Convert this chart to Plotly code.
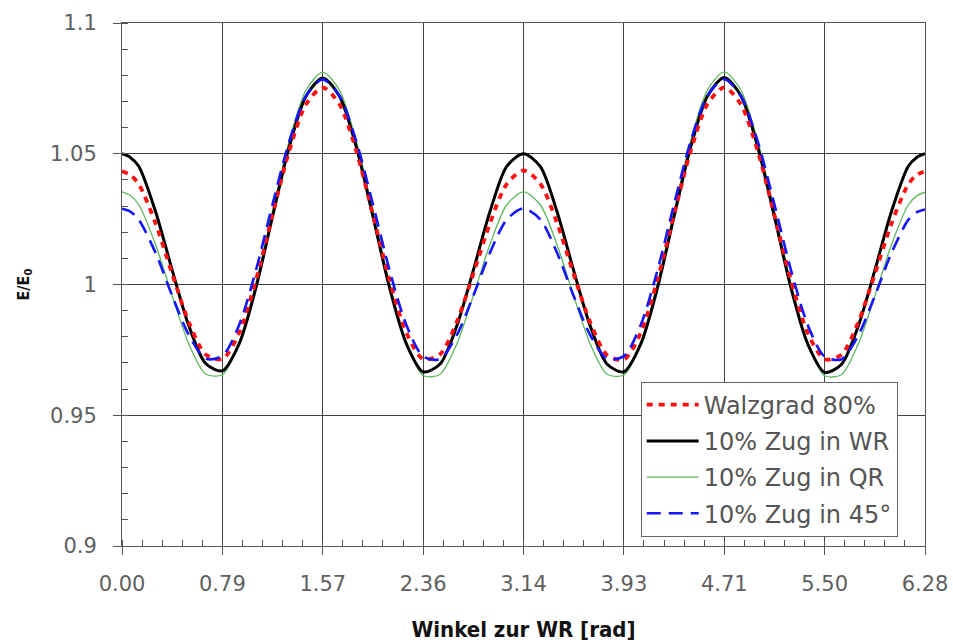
import plotly.graph_objects as go

# Winkel zur Walzrichtung [rad], Schrittweite pi/24, an den Rändern verdichtet
winkel = [0.0000, 0.0654, 0.1309, 0.2618, 0.3927, 0.5236, 0.6545, 0.7854, 0.9163, 1.0472, 1.1781,
          1.3090, 1.4399, 1.5708, 1.7017, 1.8326, 1.9635, 2.0944, 2.2253, 2.3562, 2.4871,
          2.6180, 2.7489, 2.8798, 3.0107, 3.1416, 3.2725, 3.4034, 3.5343, 3.6652, 3.7961,
          3.9270, 4.0579, 4.1888, 4.3197, 4.4506, 4.5815, 4.7124, 4.8433, 4.9742, 5.1051,
          5.2360, 5.3669, 5.4978, 5.6287, 5.7596, 5.8905, 6.0214, 6.1523, 6.2178, 6.2832]

# E/E0 je Probe
walzgrad_80 = [1.0433, 1.0419, 1.0384, 1.0235, 1.0041, 0.9855, 0.9732, 0.9715, 0.9815, 1.0015, 1.0267,
               1.0512, 1.0689, 1.0753, 1.0689, 1.0512, 1.0267, 1.0015, 0.9815, 0.9715, 0.9732,
               0.9855, 1.0041, 1.0235, 1.0384, 1.0436, 1.0386, 1.0236, 1.0040, 0.9853, 0.9730,
               0.9713, 0.9814, 1.0016, 1.0268, 1.0513, 1.0690, 1.0754, 1.0688, 1.0510, 1.0265,
               1.0013, 0.9813, 0.9714, 0.9731, 0.9854, 1.0040, 1.0234, 1.0383, 1.0419, 1.0433]
zug_wr = [1.0500, 1.0486, 1.0452, 1.0280, 1.0055, 0.9841, 0.9698, 0.9670, 0.9773, 0.9986, 1.0260,
          1.0527, 1.0720, 1.0790, 1.0720, 1.0527, 1.0260, 0.9986, 0.9773, 0.9666, 0.9695,
          0.9839, 1.0054, 1.0280, 1.0452, 1.0500, 1.0452, 1.0279, 1.0053, 0.9839, 0.9695,
          0.9666, 0.9771, 0.9985, 1.0260, 1.0527, 1.0721, 1.0792, 1.0721, 1.0526, 1.0259,
          0.9984, 0.9771, 0.9664, 0.9694, 0.9839, 1.0054, 1.0280, 1.0452, 1.0486, 1.0500]
zug_qr = [1.0354, 1.0340, 1.0305, 1.0154, 0.9957, 0.9772, 0.9658, 0.9655, 0.9777, 1.0002, 1.0281,
          1.0550, 1.0743, 1.0812, 1.0743, 1.0550, 1.0281, 1.0002, 0.9777, 0.9652, 0.9656,
          0.9771, 0.9957, 1.0154, 1.0305, 1.0354, 1.0305, 1.0153, 0.9956, 0.9771, 0.9657,
          0.9654, 0.9776, 1.0002, 1.0282, 1.0551, 1.0744, 1.0813, 1.0743, 1.0549, 1.0280,
          1.0001, 0.9776, 0.9651, 0.9655, 0.9771, 0.9956, 1.0153, 1.0304, 1.0339, 1.0353]
zug_45 = [1.0290, 1.0279, 1.0248, 1.0122, 0.9957, 0.9806, 0.9717, 0.9727, 0.9845, 1.0053, 1.0307,
          1.0548, 1.0721, 1.0784, 1.0721, 1.0548, 1.0307, 1.0053, 0.9845, 0.9725, 0.9715,
          0.9805, 0.9957, 1.0122, 1.0248, 1.0291, 1.0249, 1.0122, 0.9956, 0.9805, 0.9716,
          0.9726, 0.9844, 1.0052, 1.0307, 1.0549, 1.0722, 1.0785, 1.0720, 1.0547, 1.0306,
          1.0052, 0.9844, 0.9724, 0.9714, 0.9804, 0.9956, 1.0121, 1.0247, 1.0276, 1.0287]

x_ticks = [0.0, 0.785398, 1.570796, 2.356194, 3.141593, 3.926991, 4.712389, 5.497787, 6.283185]
x_ticktext = ["0.00", "0.79", "1.57", "2.36", "3.14", "3.93", "4.71", "5.50", "6.28"]
y_ticks = [0.9, 0.95, 1.0, 1.05, 1.1]
y_ticktext = ["0.9", "0.95", "1", "1.05", "1.1"]

FONT = "DejaVu Sans, sans-serif"
FONT_BOLD = "DejaVu Sans Condensed, DejaVu Sans, sans-serif"

serien = [
    # name, werte, farbe, breite, strich, legendrank
    ("10% Zug in QR", zug_qr, "#5cb85c", 1.3, "solid", 3),
    ("10% Zug in WR", zug_wr, "#000000", 3.0, "solid", 2),
    ("Walzgrad 80%", walzgrad_80, "#ff1010", 3.8, "6px,6px", 1),
    ("10% Zug in 45°", zug_45, "#1515ff", 2.6, "14px,8px", 4),
]

fig = go.Figure()
for name, werte, farbe, breite, strich, rang in serien:
    fig.add_trace(go.Scatter(
        x=winkel, y=werte, mode="lines", name=name,
        line=dict(color=farbe, width=breite, dash=strich, shape="spline", smoothing=0.8),
        legendrank=rang, legendgroup=name,
    ))

fig.update_layout(
    width=953, height=642,
    margin=dict(l=122, r=28, t=23, b=96),
    paper_bgcolor="white", plot_bgcolor="white",
    font=dict(family=FONT, size=21, color="#606060"),
    legend=dict(
        x=0.966, xanchor="right", y=0.018, yanchor="bottom",
        bgcolor="white", bordercolor="#666666", borderwidth=1,
        font=dict(family=FONT, size=24, color="#555555"),
        traceorder="grouped", tracegroupgap=2, itemwidth=52,
    ),
    xaxis=dict(
        range=[0, 6.2832], tickmode="array", tickvals=x_ticks, ticktext=x_ticktext,
        automargin=False,
        showgrid=True, gridcolor="#404040", gridwidth=1,
        showline=True, linecolor="#555555", linewidth=1, mirror=True,
        ticks="outside", ticklen=8, tickcolor="#555555", ticklabelstandoff=11,
        zeroline=False,
        minor=dict(dtick=0.15708, tick0=0, ticks="inside", ticklen=6,
                   tickcolor="#555555", showgrid=False),
        title=dict(text="<b>Winkel zur WR [rad]</b>",
                   font=dict(family=FONT_BOLD, size=22, color="#111111"), standoff=28),
    ),
    yaxis=dict(
        range=[0.9, 1.1], tickmode="array", tickvals=y_ticks, ticktext=y_ticktext,
        automargin=False,
        showgrid=True, gridcolor="#404040", gridwidth=1,
        showline=True, linecolor="#555555", linewidth=1, mirror=True,
        ticks="outside", ticklen=8, tickcolor="#555555", ticklabelstandoff=12,
        zeroline=False,
        minor=dict(dtick=0.01, tick0=0.9, ticks="inside", ticklen=6,
                   tickcolor="#555555", showgrid=False),
        title=dict(text="<b>E/E<sub>0</sub></b>",
                   font=dict(family=FONT_BOLD, size=16, color="#111111"), standoff=16),
    ),
)

fig.write_html("out.html")
